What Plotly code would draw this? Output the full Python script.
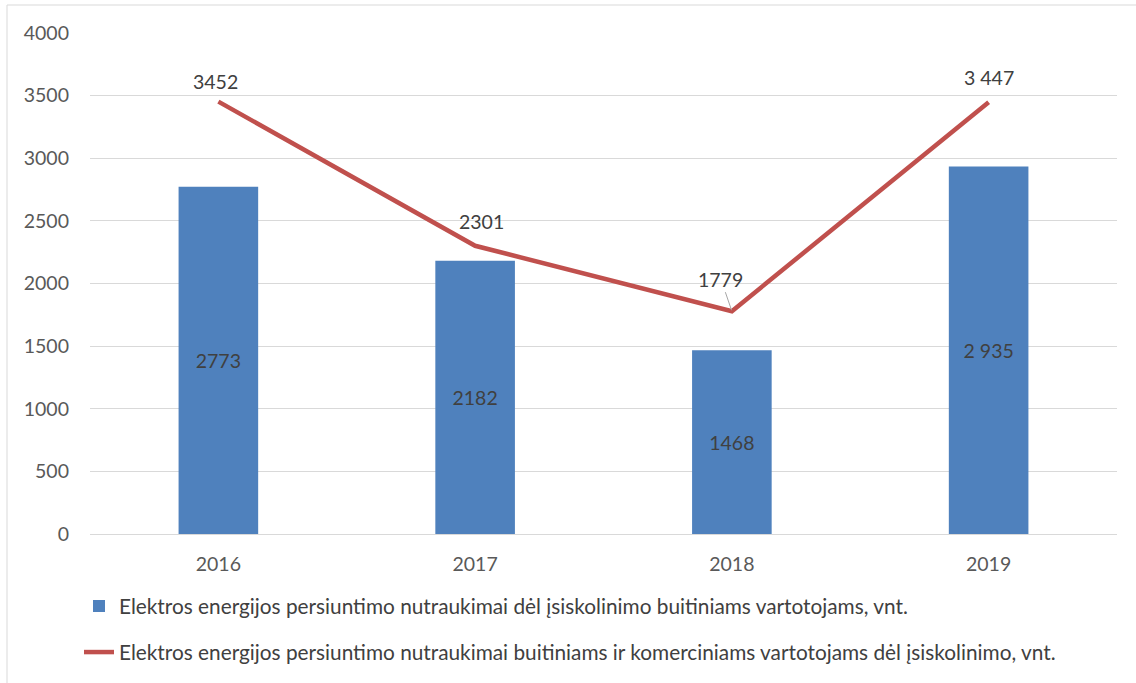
import plotly.graph_objects as go

years = ["2016", "2017", "2018", "2019"]
bar_values = [2773, 2182, 1468, 2935]
bar_labels = ["2773", "2182", "1468", "2 935"]
line_values = [3452, 2301, 1779, 3447]
line_labels = ["3452", "2301", "1779", "3 447"]
bar_name = "Elektros energijos persiuntimo nutraukimai dėl įsiskolinimo buitiniams vartotojams, vnt."
line_name = "Elektros energijos persiuntimo nutraukimai buitiniams ir komerciniams vartotojams dėl įsiskolinimo, vnt."
y_ticks = [0, 500, 1000, 1500, 2000, 2500, 3000, 3500, 4000]

# label offsets in pixels (style)
label_dx = [-3, 6, -11, 0]
label_dy = [-20, -24, -32, -25]
label_arrow = [False, False, True, False]

FONT = "Lato, Carlito, Calibri, sans-serif"
TXT = "#404040"
FS = 19.5

fig = go.Figure()
fig.add_trace(go.Bar(
    x=years, y=bar_values, name=bar_name, width=0.31,
    marker=dict(color="#4f81bd", line=dict(width=0)),
    text=bar_labels, textposition="inside", insidetextanchor="middle",
    textfont=dict(family=FONT, size=FS, color=TXT), textangle=0,
    legendgroup="a",
))
fig.add_trace(go.Scatter(
    x=years, y=line_values, name=line_name, mode="lines",
    line=dict(color="#c0504d", width=4.5),
    legendgroup="b",
))

# on a category axis numeric-looking strings are read as indices, so use the index
for i, (v, t, dx, dy, arr) in enumerate(zip(line_values, line_labels, label_dx, label_dy, label_arrow)):
    if arr:
        fig.add_annotation(x=i, y=v, text=t, showarrow=True, ax=dx, ay=dy,
                           arrowhead=0, arrowwidth=1, arrowcolor="#a6a6a6", standoff=1,
                           font=dict(family=FONT, size=FS, color=TXT))
    else:
        fig.add_annotation(x=i, y=v, text=t, showarrow=False, xshift=dx, yshift=-dy,
                           font=dict(family=FONT, size=FS, color=TXT))

# outer chart frame
fig.add_shape(type="rect", xref="paper", yref="paper",
              x0=(7 - 90) / 1027, x1=(1140 - 90) / 1027,
              y0=-(690 - 534) / 501, y1=1 + (33 - 5) / 501,
              line=dict(color="#d9d9d9", width=1), layer="below")

fig.update_layout(
    width=1136, height=683,
    margin=dict(l=90, r=19, t=33, b=149, autoexpand=False),
    paper_bgcolor="white", plot_bgcolor="white",
    bargap=0.69,
    font=dict(family=FONT, size=16, color="#595959"),
    showlegend=True,
    legend=dict(orientation="v", x=(79 - 90) / 1027, xanchor="left",
                y=-(586 - 534) / 501, yanchor="top",
                font=dict(family=FONT, size=20.8, color=TXT),
                tracegroupgap=16, itemwidth=30, traceorder="grouped"),
)
fig.update_xaxes(type="category", range=[-0.5, 3.5], showgrid=False, showline=False, ticks="",
                 ticklabelstandoff=16, automargin=False,
                 tickfont=dict(family=FONT, size=FS, color="#595959"))
fig.update_yaxes(range=[0, 4000], tickvals=y_ticks, showgrid=True, gridcolor="#d9d9d9",
                 gridwidth=1.3, zeroline=True, zerolinecolor="#d9d9d9", zerolinewidth=1.3,
                 showline=False, ticks="", ticklabelstandoff=20, automargin=False,
                 tickfont=dict(family=FONT, size=FS, color="#595959"))

fig.write_html("out.html", config={"displayModeBar": False},
               post_script="document.body.style.margin='0';document.body.style.overflow='hidden';")
